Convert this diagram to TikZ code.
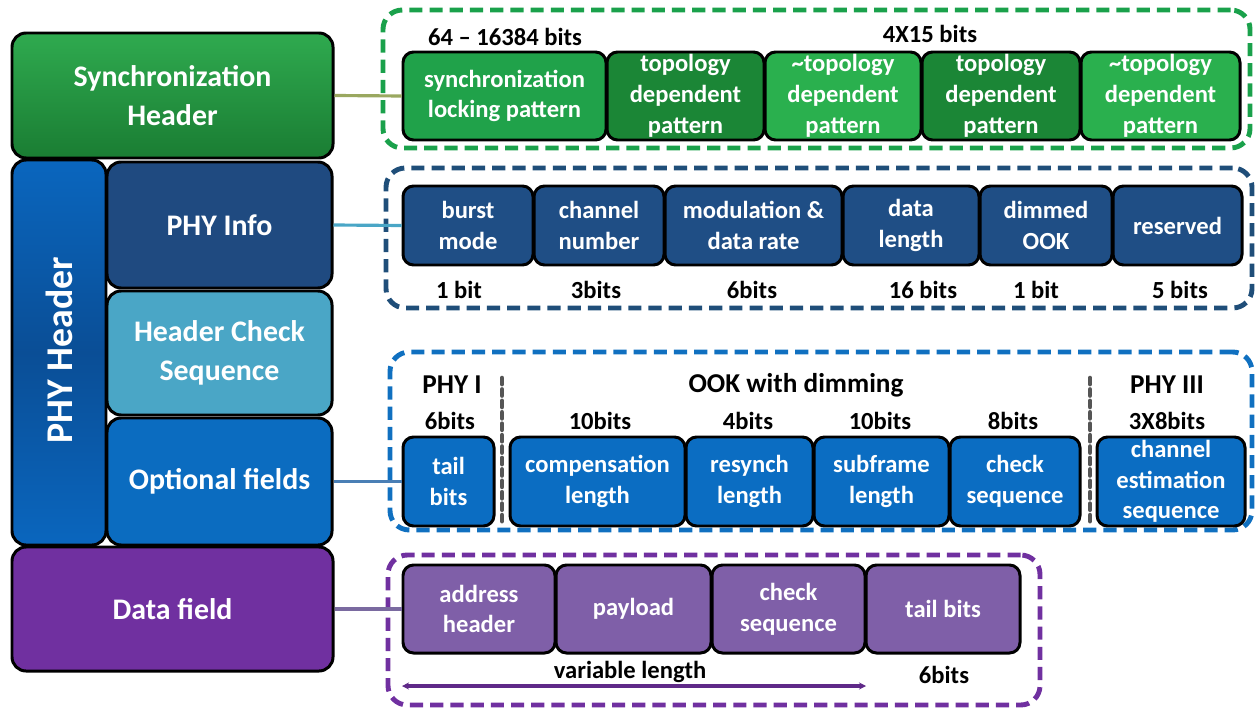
\documentclass[tikz,border=0pt]{standalone}
\usepackage{fontspec}
\setmainfont{Carlito}
\usetikzlibrary{arrows.meta}
\definecolor{gSync}{HTML}{20A24A}
\definecolor{gTopo}{HTML}{1B8636}
\definecolor{gNTopo}{HTML}{2AB04E}
\definecolor{gDash}{HTML}{1AA14B}
\definecolor{nBox}{HTML}{1F4E85}
\definecolor{nDash}{HTML}{1F4E79}
\definecolor{bBox}{HTML}{0B6DC2}
\definecolor{bDash}{HTML}{1070C0}
\definecolor{pBox}{HTML}{7F5FA8}
\definecolor{pDash}{HTML}{7030A0}
\definecolor{lSyncT}{HTML}{2FAA4F}
\definecolor{lSyncB}{HTML}{1A7D33}
\definecolor{lInfo}{HTML}{1F4A80}
\definecolor{lHCS}{HTML}{4AA6C6}
\definecolor{lOpt}{HTML}{0B6CC0}
\definecolor{lPhyT}{HTML}{0A66BE}
\definecolor{lPhyM}{HTML}{0A4E96}
\definecolor{lData}{HTML}{7030A0}
\definecolor{cSync}{HTML}{9AA860}
\definecolor{cInfo}{HTML}{4AA6C6}
\definecolor{cOpt}{HTML}{4A7FB5}
\definecolor{cData}{HTML}{7A6AA0}
\definecolor{sepGray}{HTML}{555555}
\newcommand\bx[7]{%
  \pgfmathsetmacro\bw{(#5-#3)*0.02}\pgfmathsetmacro\bh{(#6-#4)*0.02}%
  \node[#2, minimum width=\bw cm, minimum height=\bh cm] (#1) at ({(#3+#5)/2},{(#4+#6)/2}) {#7};}
\tikzset{
  fbox/.style={draw=black, line width=1.7pt, rounded corners=6pt, text=white, align=center,
    font=\bfseries\fontsize{14}{17.5}\selectfont, inner sep=1pt},
  lbox/.style={draw=black, line width=1.7pt, rounded corners=8pt, text=white, align=center,
    font=\bfseries\fontsize{17}{22.5}\selectfont, inner sep=1pt},
  outer/.style={line width=2.8pt, rounded corners=11pt, dash pattern=on 7.5pt off 4pt},
  bitlbl/.style={font=\bfseries\fontsize{14}{16}\selectfont, text=black, inner sep=0pt},
  headlbl/.style={font=\bfseries\fontsize{15.5}{18}\selectfont, text=black, inner sep=0pt},
  sep/.style={draw=sepGray, line width=2.6pt, dash pattern=on 3.5pt off 3pt, line cap=round},
  conn/.style={line width=1.8pt},
}
\begin{document}
\begin{tikzpicture}[x=0.02cm, y=-0.02cm]
\useasboundingbox (0,0) rectangle (1256,709);
% outer dashed groups
\bx{gSyncOuter}{outer, draw=gDash}{383}{10}{1250}{148}{}
\bx{gInfoOuter}{outer, draw=nDash}{386}{168}{1252}{308}{}
\bx{gOptOuter}{outer, draw=bDash}{390}{352}{1252}{530}{}
\bx{gDataOuter}{outer, draw=pDash}{388}{555}{1040}{705}{}
% left column
\bx{phyhdr}{lbox, top color=lPhyT, bottom color=lPhyT, middle color=lPhyM}{12}{160}{106}{545}{}
\node[text=white, font=\bfseries\fontsize{21.5}{24}\selectfont, rotate=90] (phylbl) at (59,350) {PHY Header};
\bx{sync}{lbox, top color=lSyncT, bottom color=lSyncB}{12}{33}{333}{158}{Synchronization\\Header}
\bx{info}{lbox, fill=lInfo}{107}{162}{332}{288}{PHY Info}
\bx{hcs}{lbox, fill=lHCS}{107}{291}{332}{415}{Header Check\\Sequence}
\bx{opt}{lbox, fill=lOpt}{107}{418}{332}{545}{Optional fields}
\bx{data}{lbox, fill=lData}{12}{547}{333}{671}{Data field}
% sync fields
\bx{slp}{fbox, fill=gSync}{403}{52}{606}{140}{synchronization\\locking pattern}
\bx{t1}{fbox, fill=gTopo}{607}{52}{764}{140}{topology\\dependent\\pattern}
\bx{t2}{fbox, fill=gNTopo}{765}{52}{921}{140}{\textasciitilde topology\\dependent\\pattern}
\bx{t3}{fbox, fill=gTopo}{922}{52}{1080}{140}{topology\\dependent\\pattern}
\bx{t4}{fbox, fill=gNTopo}{1081}{52}{1240}{140}{\textasciitilde topology\\dependent\\pattern}
\node[bitlbl] (lsync) at (505,37) {64 -- 16384 bits};
\node[bitlbl] (ltopo) at (930,34) {4X15 bits};
% PHY info fields
\bx{burst}{fbox, fill=nBox}{403}{186}{533}{265}{burst\\mode}
\bx{chan}{fbox, fill=nBox}{534}{186}{664}{265}{channel\\number}
\bx{mod}{fbox, fill=nBox}{665}{186}{842}{265}{modulation \&\\data rate}
\bx{dlen}{fbox, fill=nBox}{843}{186}{979}{265}{data\\length}
\bx{dim}{fbox, fill=nBox}{980}{186}{1112}{265}{dimmed\\OOK}
\bx{res}{fbox, fill=nBox}{1113}{186}{1242}{265}{reserved}
\node[bitlbl] (b1) at (459,290) {1 bit};
\node[bitlbl] (b2) at (596,290) {3bits};
\node[bitlbl] (b3) at (752,290) {6bits};
\node[bitlbl] (b4) at (923,290) {16 bits};
\node[bitlbl] (b5) at (1036,290) {1 bit};
\node[bitlbl] (b6) at (1180,290) {5 bits};
% optional fields
\bx{tail}{fbox, fill=bBox}{403}{437}{494}{526}{tail\\bits}
\bx{comp}{fbox, fill=bBox}{510}{437}{685}{526}{compensation\\length}
\bx{resy}{fbox, fill=bBox}{686}{437}{813}{526}{resynch\\length}
\bx{subf}{fbox, fill=bBox}{814}{437}{949}{526}{subframe\\length}
\bx{chk}{fbox, fill=bBox}{950}{437}{1080}{526}{check\\sequence}
\bx{chest}{fbox, fill=bBox}{1097}{437}{1245}{526}{channel\\estimation\\sequence}
\node[headlbl] (phy1) at (452,385) {PHY I};
\node[headlbl] (ook) at (796,385) {OOK with dimming};
\node[headlbl] (phy3) at (1167,385) {PHY III};
\node[bitlbl] (o1) at (450,421) {6bits};
\node[bitlbl] (o2) at (600,421) {10bits};
\node[bitlbl] (o3) at (748,421) {4bits};
\node[bitlbl] (o4) at (880,421) {10bits};
\node[bitlbl] (o5) at (1013,421) {8bits};
\node[bitlbl] (o6) at (1167,421) {3X8bits};
\coordinate (s1a) at (502,378); \coordinate (s1b) at (502,524);
\coordinate (s2a) at (1090,378); \coordinate (s2b) at (1090,524);
\draw[sep] (s1a) -- (s1b);
\draw[sep] (s2a) -- (s2b);
% data fields
\bx{addr}{fbox, fill=pBox}{403}{565}{555}{653}{address\\header}
\bx{pay}{fbox, fill=pBox}{556}{565}{711}{653}{payload}
\bx{dchk}{fbox, fill=pBox}{712}{565}{865}{653}{check\\sequence}
\bx{dtail}{fbox, fill=pBox}{866}{565}{1020}{653}{tail bits}
\node[bitlbl] (vl) at (630,672) {variable length};
\node[bitlbl] (d6) at (944,675) {6bits};
\coordinate (va) at (402,686); \coordinate (vb) at (866,686);
\draw[{Stealth[length=4pt,width=4pt]}-{Stealth[length=4pt,width=4pt]}, line width=1.8pt, draw=pDash!85!black] (va) -- (vb);
% connectors
\draw[conn, draw=cSync] (sync.east) -- (slp.west);
\draw[conn, draw=cInfo] (info.east) -- (burst.west);
\draw[conn, draw=cOpt] (opt.east) -- (tail.west);
\draw[conn, draw=cData] (data.east) -- (addr.west);
\end{tikzpicture}
\end{document}
